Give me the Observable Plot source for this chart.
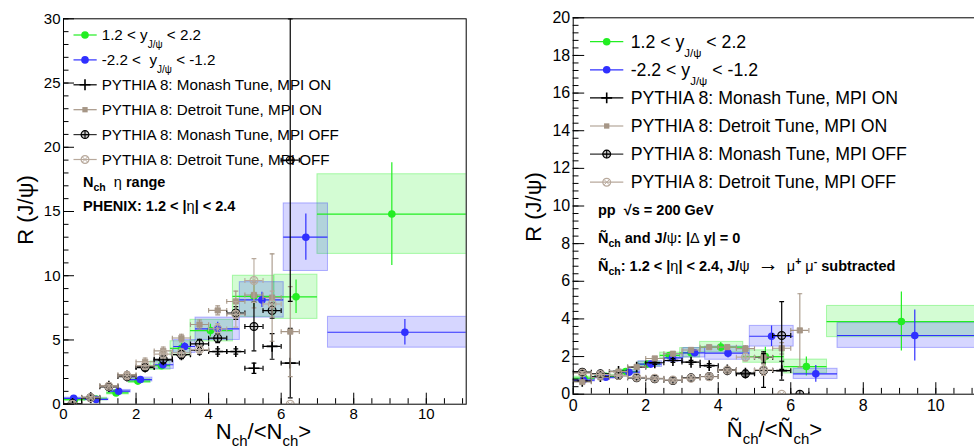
<!DOCTYPE html>
<html><head><meta charset="utf-8">
<script src="https://cdn.jsdelivr.net/npm/d3@7"></script>
<script src="https://cdn.jsdelivr.net/npm/@observablehq/plot@0.6"></script>
<style>
html,body{margin:0;padding:0;background:#fff;}
#wrap{position:relative;width:974px;height:446px;overflow:hidden;background:#fff;}
#left{position:absolute;left:0;top:0;width:487px;height:446px;}
#right{position:absolute;left:487px;top:0;width:490px;height:446px;}
svg text{font-family:"Liberation Sans",Arial,Helvetica,sans-serif;}
</style></head><body><div id="wrap"><div id="left"></div><div id="right"></div></div>
<script>
// ---------- colours ----------
const GREEN = "#22ee22", BLUE = "#3030ff", MON = "#000000", DET_ON = "#a69686", DET_OFF = "#b8a99c";

// ---------- tick labels ----------
const xMajorTicks = [0, 2, 4, 6, 8, 10];
const leftYTicks = [0, 5, 10, 15, 20, 25, 30];
const rightYTicks = [0, 2, 4, 6, 8, 10, 12, 14, 16, 18, 20];

// ---------- PYTHIA bins ----------
const pythiaX = [0.25, 0.75, 1.25, 1.75, 2.25, 2.75, 3.25, 3.75, 4.25, 4.75, 5.25, 5.75, 6.25];
const pythiaHalfWidth = 0.25;

// ---------- LEFT panel: data ----------
const leftFwdX    = [0.3, 0.9, 1.45, 2.05, 2.7, 3.25, 4.05, 5.25, 6.41, 9.05];
const leftFwdY    = [0.35, 0.4, 0.88, 1.8, 3.0, 4.35, 5.73, 8.4, 8.36, 14.8];
const leftFwdXlo  = [0, 0.6, 1.2, 1.8, 2.4, 2.95, 3.5, 4.67, 5.81, 7.0];
const leftFwdXhi  = [0.6, 1.2, 1.8, 2.4, 2.95, 3.5, 4.67, 5.81, 7.0, 12];
const leftFwdErr  = [0.1, 0.1, 0.15, 0.2, 0.3, 0.4, 0.5, 0.9, 1.3, 4.0];
const leftFwdSys  = [0.08, 0.1, 0.12, 0.15, 0.32, 0.55, 0.84, 1.6, 1.72, 3.1];

const leftBwdX    = [0.28, 0.9, 1.52, 2.12, 2.74, 3.34, 4.25, 5.47, 6.68, 9.41];
const leftBwdY    = [0.45, 0.37, 1.01, 1.92, 3.07, 4.49, 5.87, 8.12, 13.0, 5.6];
const leftBwdXlo  = [0, 0.6, 1.25, 1.8, 2.5, 3.04, 3.64, 4.86, 6.07, 7.29];
const leftBwdXhi  = [0.6, 1.24, 1.85, 2.45, 3.04, 3.64, 4.86, 6.07, 7.29, 12];
const leftBwdErr  = [0.1, 0.1, 0.12, 0.15, 0.2, 0.3, 0.5, 0.6, 1.8, 1.0];
const leftBwdSys  = [0.06, 0.06, 0.1, 0.15, 0.32, 0.5, 0.87, 1.38, 2.63, 1.2];

// ---------- LEFT panel: PYTHIA ----------
const leftMonOnY   = [0.05, 0.5, 1.4, 2.2, 2.9, 3.45, 3.85, 4.2, 4.1, 4.1, 2.8, 4.5, 3.2];
const leftMonOnE   = [0.05, 0.1, 0.15, 0.2, 0.25, 0.3, 0.3, 0.3, 0.2, 0.2, 0.4, 1.0, 2.7];
const leftDetOnY   = [0.05, 0.55, 1.45, 2.3, 3.3, 4.15, 5.15, 6.2, 7.3, 8.0, 8.5, 8.3, 5.65];
const leftDetOnE   = [0.05, 0.1, 0.15, 0.25, 0.3, 0.3, 0.3, 0.35, 0.35, 0.8, 1.0, 3.4, 3.5];
const leftMonOffY  = [0.05, 0.5, 1.35, 2.15, 2.85, 3.5, 3.87, 4.7, 5.14, 7.1, 6.05, 7.29, 19.0];
const leftMonOffE  = [0.05, 0.1, 0.15, 0.2, 0.25, 0.3, 0.3, 0.35, 0.35, 0.5, 1.9, 0.6, 11];
const leftDetOffY  = [0.0, 0.5, 1.4, 2.2, 3.0, 3.9, 4.0, 4.25, 5.87, 7.0, 9.63, 7.8, 0.0];
const leftDetOffE  = [0.05, 0.1, 0.15, 0.2, 0.25, 0.3, 0.3, 0.3, 0.4, 1.0, 1.7, 1.0, 0];

// ---------- RIGHT panel: data ----------
const rightFwdX   = [0.3, 0.9, 1.45, 2.05, 2.65, 3.25, 4.07, 5.3, 6.43, 9.05];
const rightFwdY   = [0.85, 0.95, 1.2, 1.6, 2.06, 2.2, 2.5, 2.0, 1.47, 3.86];
const rightFwdXlo = [0, 0.6, 1.2, 1.8, 2.4, 2.95, 3.5, 4.69, 5.82, 7.0];
const rightFwdXhi = [0.6, 1.2, 1.8, 2.4, 2.95, 3.5, 4.69, 5.82, 7.0, 12];
const rightFwdErr = [0.1, 0.1, 0.1, 0.12, 0.15, 0.2, 0.25, 0.5, 0.5, 1.57];
const rightFwdSys = [0.08, 0.08, 0.1, 0.12, 0.15, 0.25, 0.28, 0.33, 0.37, 0.83];

const rightBwdX   = [0.28, 0.9, 1.54, 2.14, 2.74, 3.35, 4.27, 5.47, 6.69, 9.42];
const rightBwdY   = [0.75, 0.9, 1.17, 1.6, 1.93, 2.2, 2.18, 3.08, 1.08, 3.12];
const rightBwdXlo = [0, 0.6, 1.25, 1.8, 2.5, 3.04, 3.64, 4.87, 6.08, 7.29];
const rightBwdXhi = [0.6, 1.24, 1.85, 2.45, 3.04, 3.64, 4.87, 6.08, 7.29, 12];
const rightBwdErr = [0.1, 0.1, 0.1, 0.12, 0.15, 0.15, 0.25, 0.55, 0.45, 1.35];
const rightBwdSys = [0.07, 0.07, 0.1, 0.15, 0.2, 0.25, 0.35, 0.55, 0.27, 0.66];

// ---------- RIGHT panel: PYTHIA ----------
const rightMonOnY  = [0.69, 0.94, 1.21, 1.44, 1.67, 1.79, 1.7, 1.52, 1.29, 1.12, 1.95, 1.25, NaN];
const rightMonOnE  = [0.05, 0.05, 0.06, 0.07, 0.08, 0.1, 0.1, 0.1, 0.12, 0.15, 0.3, 0.5, NaN];
const rightDetOnY  = [0.65, 0.9, 1.2, 1.45, 1.9, 2.15, 2.35, 2.5, 2.5, 2.42, 1.97, 2.44, 3.39];
const rightDetOnE  = [0.05, 0.05, 0.06, 0.08, 0.1, 0.1, 0.1, 0.1, 0.12, 0.15, 0.2, 0.3, 1.95];
const rightMonOffY = [1.17, 1.08, 0.99, 0.87, 0.82, 0.73, 0.87, 0.94, 1.26, 1.08, 1.26, 3.12, 0.0];
const rightMonOffE = [0.08, 0.08, 0.06, 0.06, 0.06, 0.06, 0.07, 0.08, 0.1, 0.15, 0.9, 1.8, 0];
const rightDetOffY = [1.12, 1.05, 1.0, 0.9, 0.85, 0.75, 0.85, 0.93, 1.28, 1.97, 1.3, 0.0, NaN];
const rightDetOffE = [0.08, 0.08, 0.06, 0.06, 0.06, 0.06, 0.07, 0.08, 0.1, 0.2, 0.3, 0, NaN];

// ---------- helpers ----------
function dataRows(x, y, xlo, xhi, err, sys) {
  return x.map((d, i) => ({x: d, y: y[i], xlo: xlo[i], xhi: xhi[i],
    ylo: y[i] - err[i], yhi: y[i] + err[i], slo: y[i] - sys[i], shi: y[i] + sys[i]}));
}
function pyRows(y, e) {
  return pythiaX.map((x, i) => ({x, y: y[i], e: e[i]})).filter(d => Number.isFinite(d.y));
}
const vCap = {draw(c, s) { const r = Math.sqrt(s / Math.PI); c.moveTo(0, -r); c.lineTo(0, r); }};
const hCap = {draw(c, s) { const r = Math.sqrt(s / Math.PI); c.moveTo(-r, 0); c.lineTo(r, 0); }};

function dataMarks(rows, color) {
  return [
    Plot.ruleY(rows, {y: "y", x1: "xlo", x2: "xhi", stroke: color, strokeWidth: 1.2, clip: true}),
    Plot.ruleX(rows, {x: "x", y1: "ylo", y2: "yhi", stroke: color, strokeWidth: 1.2, clip: true}),
    Plot.dot(rows, {x: "x", y: "y", r: 3.8, fill: color, stroke: "none", clip: true})
  ];
}
function boxMarks(rows, color) {
  return Plot.rect(rows, {x1: "xlo", x2: "xhi", y1: "slo", y2: "shi", fill: color, fillOpacity: 0.2,
    stroke: color, strokeOpacity: 0.35, clip: true});
}
function markerMarks(rows, kind) {
  const o = {x: "x", y: "y", clip: true};
  if (kind === "monOn") return [Plot.dot(rows, {...o, symbol: "plus", r: 3.6, stroke: MON, strokeWidth: 1.6})];
  if (kind === "detOn") return [Plot.dot(rows, {...o, symbol: "square", r: 3, fill: DET_ON, stroke: DET_ON, strokeWidth: 0.8})];
  if (kind === "monOff") return [
    Plot.dot(rows, {...o, symbol: "circle", r: 3.9, fill: "#9a9a9a", fillOpacity: 0.5, stroke: MON, strokeWidth: 1.2}),
    Plot.dot(rows, {...o, symbol: "plus", r: 2.8, stroke: MON, strokeWidth: 1.1})];
  return [
    Plot.dot(rows, {...o, symbol: "circle", r: 3.9, fill: "none", stroke: DET_OFF, strokeWidth: 1.2}),
    Plot.dot(rows, {...o, symbol: "times", r: 2.4, stroke: DET_OFF, strokeWidth: 1})];
}
function pyMarks(rows, color, kind, sw) {
  const er = rows.filter(d => d.e > 0);
  return [
    Plot.ruleY(rows, {y: "y", x1: d => d.x - pythiaHalfWidth, x2: d => d.x + pythiaHalfWidth, stroke: color, strokeWidth: sw, clip: true}),
    Plot.ruleX(er, {x: "x", y1: d => d.y - d.e, y2: d => d.y + d.e, stroke: color, strokeWidth: sw, clip: true}),
    Plot.dot(rows, {x: d => d.x - pythiaHalfWidth, y: "y", symbol: vCap, r: 2.4, fill: "none", stroke: color, strokeWidth: sw, clip: true}),
    Plot.dot(rows, {x: d => d.x + pythiaHalfWidth, y: "y", symbol: vCap, r: 2.4, fill: "none", stroke: color, strokeWidth: sw, clip: true}),
    Plot.dot(er, {x: "x", y: d => d.y - d.e, symbol: hCap, r: 2.4, fill: "none", stroke: color, strokeWidth: sw, clip: true}),
    Plot.dot(er, {x: "x", y: d => d.y + d.e, symbol: hCap, r: 2.4, fill: "none", stroke: color, strokeWidth: sw, clip: true}),
    ...markerMarks(rows, kind)
  ];
}

function richText(g, x, y, parts, size, weight, sub, sup, anchor) {
  const t = g.append("text").attr("x", x).attr("y", y).attr("font-size", size)
    .attr("font-weight", weight).attr("fill", "black").style("white-space", "pre")
    .attr("text-anchor", anchor || "start");
  let shift = 0;
  for (const p of parts) {
    const [txt, mode, w, fs] = p;
    const target = mode === "sub" ? sub.dy : mode === "sup" ? -sup.dy : 0;
    const ts = t.append("tspan").text(txt).attr("dy", target - shift);
    shift = target;
    if (mode === "sub") ts.attr("font-size", sub.size);
    if (mode === "sup") ts.attr("font-size", sup.size);
    if (w) ts.attr("font-weight", w);
    if (fs) ts.attr("font-size", fs);
  }
  return t;
}

function legendMarker(g, kind, x, y) {
  const sym = (type, r) => d3.symbol().type(type).size(r * r * Math.PI)();
  const at = `translate(${x},${y})`;
  if (kind === "green" || kind === "blue") {
    g.append("path").attr("d", sym(d3.symbolCircle, 3.8)).attr("transform", at).attr("fill", kind === "green" ? GREEN : BLUE);
  } else if (kind === "monOn") {
    g.append("path").attr("d", sym(d3.symbolPlus, 3.6)).attr("transform", at).attr("fill", "none").attr("stroke", MON).attr("stroke-width", 1.6);
  } else if (kind === "detOn") {
    g.append("path").attr("d", sym(d3.symbolSquare, 3)).attr("transform", at).attr("fill", DET_ON);
  } else if (kind === "monOff") {
    g.append("path").attr("d", sym(d3.symbolCircle, 3.9)).attr("transform", at).attr("fill", "#9a9a9a").attr("fill-opacity", 0.5).attr("stroke", MON).attr("stroke-width", 1.2);
    g.append("path").attr("d", sym(d3.symbolPlus, 2.8)).attr("transform", at).attr("fill", "none").attr("stroke", MON).attr("stroke-width", 1.1);
  } else {
    g.append("path").attr("d", sym(d3.symbolCircle, 3.9)).attr("transform", at).attr("fill", "none").attr("stroke", DET_OFF).attr("stroke-width", 1.2);
    g.append("path").attr("d", sym(d3.symbolTimes, 2.4)).attr("transform", at).attr("fill", "none").attr("stroke", DET_OFF).attr("stroke-width", 1);
  }
}
const kindColor = {green: GREEN, blue: BLUE, monOn: MON, detOn: DET_ON, monOff: "#333", detOff: DET_OFF};

function makePanel(cfg) {
  const G = dataRows(...cfg.fwd), B = dataRows(...cfg.bwd);
  const P = cfg.py;
  const tickAxes = [
    Plot.axisX({ticks: cfg.xMinor, tickSize: -cfg.minorLen, tickFormat: () => "", label: null}),
    Plot.axisX({ticks: xMajorTicks, tickSize: -cfg.majorLen, tickFormat: () => "", label: null}),
    Plot.axisX({ticks: xMajorTicks, tickSize: 0, tickPadding: cfg.xPad, tickFormat: d => String(d), fontSize: cfg.tickFont, label: null}),
    Plot.axisY({ticks: cfg.yMinor, tickSize: -cfg.minorLen, tickFormat: () => "", label: null}),
    Plot.axisY({ticks: cfg.yMajor, tickSize: -cfg.majorLen, tickFormat: () => "", label: null}),
    Plot.axisY({ticks: cfg.yMajor, tickSize: 0, tickPadding: 3, tickFormat: d => String(d), fontSize: cfg.tickFont, label: null})
  ];
  const svgEl = Plot.plot({
    width: cfg.width, height: 446,
    marginLeft: cfg.m[0], marginRight: cfg.m[1], marginTop: cfg.m[2], marginBottom: cfg.m[3],
    x: {domain: cfg.xDomain, label: null},
    y: {domain: cfg.yDomain, label: null},
    style: {background: "white", fontFamily: "Liberation Sans, Arial, sans-serif", maxWidth: "none", overflow: "visible", color: "black"},
    marks: [
      boxMarks(G, GREEN), boxMarks(B, BLUE),
      ...dataMarks(G, GREEN), ...dataMarks(B, BLUE),
      ...pyMarks(pyRows(...P.monOn), MON, "monOn", 1.2),
      ...pyMarks(pyRows(...P.detOn), DET_ON, "detOn", 1.1),
      ...pyMarks(pyRows(...P.monOff), MON, "monOff", 1.2),
      ...pyMarks(pyRows(...P.detOff), DET_OFF, "detOff", 1.1),
      ...tickAxes,
      Plot.frame({stroke: "black", strokeWidth: 1})
    ]
  });
  document.querySelector(cfg.el).appendChild(svgEl);
  const svg = d3.select(svgEl);
  const g = svg.append("g");
  const L = cfg.legend;
  cfg.entries.forEach((e, i) => {
    const cy = L.y0 + i * L.dy;
    g.append("line").attr("x1", L.lx0).attr("x2", L.lx1).attr("y1", cy).attr("y2", cy)
      .attr("stroke", kindColor[e.kind]).attr("stroke-width", 1.2);
    legendMarker(g, e.kind, L.mx, cy);
    richText(g, L.tx, cy + L.base, e.parts, L.font, "normal", L.sub, L.sub);
  });
  cfg.notes.forEach(n => richText(g, n.x, n.y, n.parts, cfg.noteFont, "bold", cfg.noteSub, cfg.noteSup));
  // axis titles
  richText(g, cfg.xTitle.x, cfg.xTitle.y, cfg.xTitle.parts, cfg.titleFont, "normal", cfg.titleSub, cfg.titleSub, "middle");
  const yt = g.append("g").attr("transform", `translate(${cfg.yTitle.x},${cfg.yTitle.y}) rotate(-90)`);
  richText(yt, 0, 0, cfg.yTitle.parts, cfg.titleFont, "normal", cfg.titleSub, cfg.titleSub, "middle");
}

const legendParts = (sp) => [
  {kind: "green", parts: [["1.2 < y"], ["J/ψ", "sub"], [" < 2.2"]]},
  {kind: "blue", parts: [["-2.2 <" + sp + "y"], ["J/ψ", "sub"], [" < -1.2"]]},
  {kind: "monOn", parts: [["PYTHIA 8: Monash Tune, MPI ON"]]},
  {kind: "detOn", parts: [["PYTHIA 8: Detroit Tune, MPI ON"]]},
  {kind: "monOff", parts: [["PYTHIA 8: Monash Tune, MPI OFF"]]},
  {kind: "detOff", parts: [["PYTHIA 8: Detroit Tune, MPI OFF"]]}
];

makePanel({
  el: "#left", width: 487, m: [63, 21.3, 18.3, 42.3],
  xDomain: [0, 11.1], yDomain: [0, 30],
  xMinor: d3.range(0, 11.01, 0.5), yMajor: leftYTicks, yMinor: d3.range(0, 30.01, 1),
  majorLen: 11, minorLen: 5.5, xPad: 4.5, tickFont: 15,
  fwd: [leftFwdX, leftFwdY, leftFwdXlo, leftFwdXhi, leftFwdErr, leftFwdSys],
  bwd: [leftBwdX, leftBwdY, leftBwdXlo, leftBwdXhi, leftBwdErr, leftBwdSys],
  py: {monOn: [leftMonOnY, leftMonOnE], detOn: [leftDetOnY, leftDetOnE], monOff: [leftMonOffY, leftMonOffE], detOff: [leftDetOffY, leftDetOffE]},
  legend: {y0: 35, dy: 24.9, lx0: 73.5, lx1: 96.7, mx: 85, tx: 101.7, base: 5.2, font: 15.2, sub: {size: 10, dy: 8}},
  entries: legendParts("  "),
  noteFont: 14.5, noteSub: {size: 10.5, dy: 4}, noteSup: {size: 10.5, dy: 5},
  notes: [
    {x: 83, y: 186.5, parts: [["N"], ["ch", "sub"], ["  "], ["η", null, "normal"], [" range"]]},
    {x: 83, y: 210.5, parts: [["PHENIX: 1.2 < |"], ["η", null, "normal"], ["| < 2.4"]]}
  ],
  titleFont: 22, titleSub: {size: 15, dy: 7},
  xTitle: {x: 263.5, y: 439, parts: [["N"], ["ch", "sub"], ["/<N"], ["ch", "sub"], [">"]]},
  yTitle: {x: 33, y: 210, parts: [["R (J/ψ)"]]}
});

makePanel({
  el: "#right", width: 490, m: [85.7, 1.8, 17.3, 52.3],
  xDomain: [0, 11.1], yDomain: [0, 20],
  xMinor: d3.range(0, 11.01, 0.5), yMajor: rightYTicks, yMinor: d3.range(0, 20.01, 0.4),
  majorLen: 11.5, minorLen: 5.8, xPad: 5, tickFont: 16,
  fwd: [rightFwdX, rightFwdY, rightFwdXlo, rightFwdXhi, rightFwdErr, rightFwdSys],
  bwd: [rightBwdX, rightBwdY, rightBwdXlo, rightBwdXhi, rightBwdErr, rightBwdSys],
  py: {monOn: [rightMonOnY, rightMonOnE], detOn: [rightDetOnY, rightDetOnE], monOff: [rightMonOffY, rightMonOffE], detOff: [rightDetOffY, rightDetOffE]},
  legend: {y0: 41.7, dy: 28.1, lx0: 103, lx1: 136.3, mx: 119.7, tx: 143.7, base: 6, font: 17.7, sub: {size: 11.5, dy: 9}},
  entries: legendParts(" "),
  noteFont: 14.5, noteSub: {size: 10.5, dy: 4}, noteSup: {size: 10.5, dy: 6},
  notes: [
    {x: 111, y: 214.5, parts: [["pp  √"], ["s", null, "bold"], [" = 200 GeV"]]},
    {x: 111, y: 243, parts: [["Ñ"], ["ch", "sub"], [" and J/"], ["ψ", null, "normal"], [": |"], ["Δ", null, "normal"], [" y| = 0"]]},
    {x: 111, y: 271, parts: [["Ñ"], ["ch", "sub"], [": 1.2 < |"], ["η", null, "normal"], ["| < 2.4, J/"], ["ψ", null, "normal"], ["  "], ["→", null, "normal", 21], ["  μ", null, "normal"], ["+", "sup"], [" μ", null, "normal"], ["-", "sup"], [" subtracted"]]}
  ],
  titleFont: 22, titleSub: {size: 15, dy: 7},
  xTitle: {x: 287.5, y: 437, parts: [["Ñ"], ["ch", "sub"], ["/<Ñ"], ["ch", "sub"], [">"]]},
  yTitle: {x: 54, y: 207, parts: [["R (J/ψ)"]]}
});
</script>
</body></html>
